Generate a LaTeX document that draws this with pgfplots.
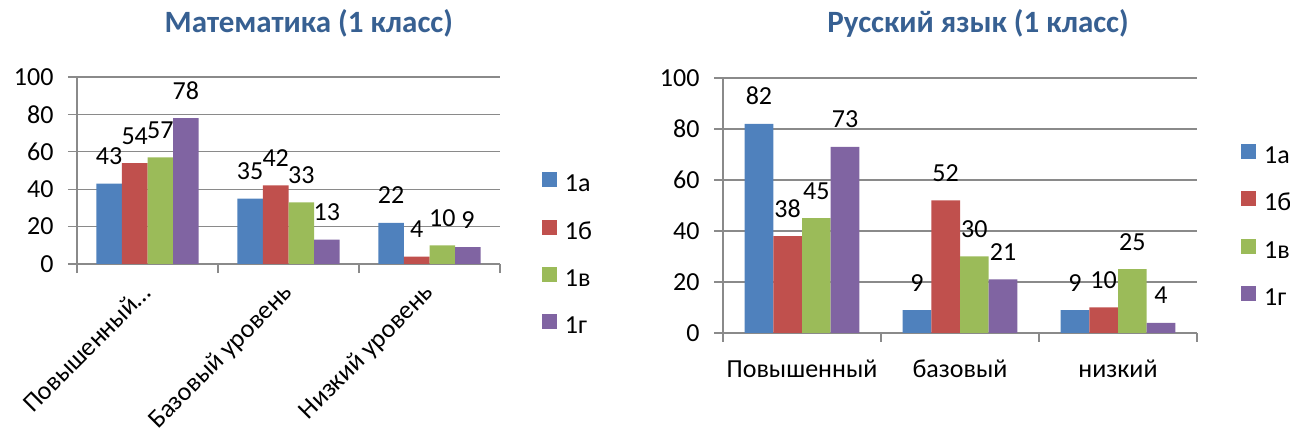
\documentclass[border=0pt]{standalone}
\usepackage{fontspec}
\setmainfont{Carlito}
\usepackage{pgfplots}
\usepackage{pgfplotstable}
\pgfplotsset{compat=1.18}
\definecolor{ca}{HTML}{4F81BD}
\definecolor{cb}{HTML}{C0504D}
\definecolor{cv}{HTML}{9BBB59}
\definecolor{cg}{HTML}{8064A2}
\definecolor{gridgray}{HTML}{8A8A8A}
\definecolor{titleblue}{HTML}{376092}
\newcommand{\lab}{\fontsize{26bp}{31bp}\selectfont}
\newcommand{\ttl}{\fontsize{31bp}{37bp}\selectfont\bfseries}

\pgfplotstableread{
cat a b v g
0 43 54 57 78
1 35 42 33 13
2 22 4 10 9
}\mathdata
\pgfplotstableread{
cat a b v g
0 82 38 45 73
1 9 52 30 21
2 9 10 25 4
}\rusdata

\pgfplotsset{
  /pgf/number format/assume math mode=true,
  mystyle/.style={
    scale only axis, ybar=0pt,
    xmin=-0.5, xmax=2.5, ymin=0, ymax=100,
    ytick={0,20,...,100},
    axis x line*=bottom, axis y line*=left,
    axis line style={draw=gridgray, line width=1.3bp},
    ymajorgrids, grid style={draw=gridgray, line width=1.3bp},
    tick align=outside, major tick length=9bp,
    tick style={draw=gridgray, line width=1.3bp},
    xtick={-0.5,0.5,1.5,2.5}, xticklabels={},
    extra x ticks={0,1,2},
    tick label style={font=\lab, text=black},
    yticklabel style={xshift=-11bp},
    nodes near coords,
    every node near coord/.append style={font=\lab, anchor=base, yshift=19bp, inner sep=0pt, text=black},
    legend image code/.code={\fill[##1] (0bp,-0.5bp) rectangle (15bp,14.5bp);},
    legend style={draw=none, fill=none, font=\lab, anchor=north west,
      inner sep=0pt, outer sep=0pt, row sep=20.8bp, column sep=8bp,
      nodes={inner sep=0pt, text height=17bp, text depth=7bp}},
    legend cell align=left,
    title style={font=\ttl, color=titleblue, anchor=base},
  },
}

\begin{document}
\begin{tikzpicture}
\useasboundingbox (0,0) rectangle (1290bp,434bp);
\begin{axis}[mystyle,
  at={(77bp,170bp)}, anchor=south west,
  width=423bp, height=187bp, bar width=25.6bp,
  title={Математика (1 класс)},
  title style={at={(0.548,1)}, yshift=39bp},
  extra x tick labels={Повышенный…,Базовый уровень,Низкий уровень},
  extra x tick style={major tick length=0pt,
    xticklabel style={rotate=45, anchor=north east, inner sep=0pt, yshift=-7.3bp, xshift=-17.7bp}},
  legend style={at={(1.099,0.49)}},
]
\addplot[fill=ca, draw=none] table[x=cat, y=a] {\mathdata};
\addplot[fill=cb, draw=none] table[x=cat, y=b] {\mathdata};
\addplot[fill=cv, draw=none] table[x=cat, y=v] {\mathdata};
\addplot[fill=cg, draw=none] table[x=cat, y=g] {\mathdata};
\legend{1а,1б,1в,1г}
\end{axis}
\begin{axis}[mystyle,
  at={(723bp,101bp)}, anchor=south west,
  width=474bp, height=255bp, bar width=28.7bp,
  title={Русский язык (1 класс)},
  title style={at={(0.538,1)}, yshift=40bp},
  extra x tick labels={Повышенный,базовый,низкий},
  extra x tick style={major tick length=0pt,
    xticklabel style={anchor=base, inner sep=0pt, yshift=-44bp}},
  legend style={at={(1.093,0.741)}},
]
\addplot[fill=ca, draw=none] table[x=cat, y=a] {\rusdata};
\addplot[fill=cb, draw=none] table[x=cat, y=b] {\rusdata};
\addplot[fill=cv, draw=none] table[x=cat, y=v] {\rusdata};
\addplot[fill=cg, draw=none] table[x=cat, y=g] {\rusdata};
\legend{1а,1б,1в,1г}
\end{axis}
\end{tikzpicture}
\end{document}
